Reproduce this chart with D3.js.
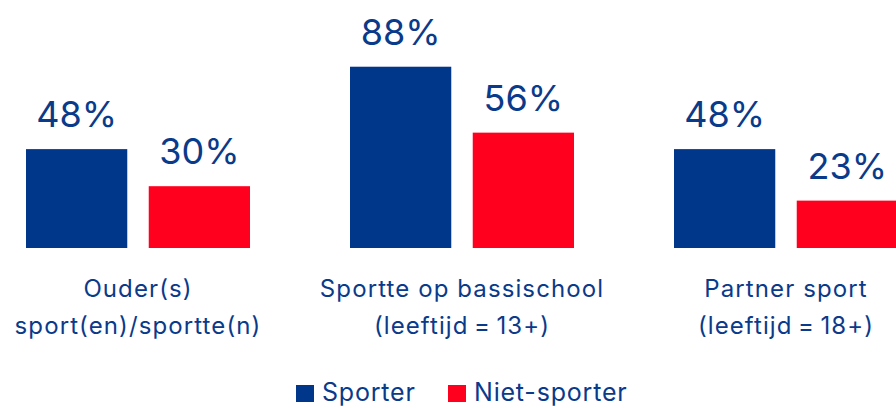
<!DOCTYPE html>
<html>
<head>
<meta charset="utf-8">
<script src="https://cdn.jsdelivr.net/npm/d3@7"></script>
<style>
  body { margin: 0; background: #fff; }
  svg { display: block; font-family: Inter, "Noto Sans", sans-serif; }
</style>
</head>
<body>
<div id="chart"></div>
<script>
// data
const categories = ["Ouder(s) sport(en)/sportte(n)", "Sportte op bassischool (leeftijd = 13+)", "Partner sport (leeftijd = 18+)"];
const catLines = [["Ouder(s)", "sport(en)/sportte(n)"], ["Sportte op bassischool", "(leeftijd\u2009=\u200913+)"], ["Partner sport", "(leeftijd\u2009=\u200918+)"]];
const seriesNames = ["Sporter", "Niet-sporter"];
const sporter = [48, 88, 48];
const nietSporter = [30, 56, 23];

const colors = ["#00378a", "#ff001f"];
const textColor = "#0a3a8a";

const width = 896;
const height = 408;
const baseY = 248;

const svg = d3.select("#chart").append("svg")
  .attr("width", width)
  .attr("height", height);

const x0 = d3.scaleBand()
  .domain(categories)
  .range([26, 26 + 324 * 3 - 100])
  .paddingInner(100 / 324)
  .paddingOuter(0);

const x1 = d3.scaleBand()
  .domain(seriesNames)
  .range([0, x0.bandwidth()])
  .paddingInner(0.175);

const y = d3.scaleLinear()
  .domain([0, 100])
  .range([baseY, baseY - 206]);

const rows = categories.map((c, i) => seriesNames.map((s, j) => ({
  cat: c, series: s, value: j === 0 ? sporter[i] : nietSporter[i], idx: j
})));

const groups = svg.selectAll("g.group")
  .data(rows)
  .enter().append("g")
  .attr("class", "group")
  .attr("transform", (d, i) => `translate(${x0(categories[i])},0)`);

groups.selectAll("rect")
  .data(d => d)
  .enter().append("rect")
  .attr("x", d => x1(d.series))
  .attr("y", d => y(d.value))
  .attr("width", x1.bandwidth())
  .attr("height", d => y(0) - y(d.value))
  .attr("fill", d => colors[d.idx]);

// value labels
groups.selectAll("text.val")
  .data(d => d)
  .enter().append("text")
  .attr("class", "val")
  .attr("x", d => x1(d.series) + x1.bandwidth() / 2)
  .attr("y", d => y(d.value) - 22)
  .attr("text-anchor", "middle")
  .attr("fill", textColor)
  .style("font-size", "36px")
  .text(d => d.value + "%");

// category labels
const catText = svg.selectAll("text.cat")
  .data(categories)
  .enter().append("text")
  .attr("class", "cat")
  .attr("x", d => x0(d) + x0.bandwidth() / 2)
  .attr("y", 297)
  .attr("text-anchor", "middle")
  .attr("fill", textColor)
  .style("font-size", "24px")
  .style("letter-spacing", "1.1px");

catText.selectAll("tspan")
  .data((d, i) => catLines[i])
  .enter().append("tspan")
  .attr("x", function() { return d3.select(this.parentNode).attr("x"); })
  .attr("dy", (d, i) => i === 0 ? 0 : 37)
  .text(d => d);

// legend
const legendX = [296, 448];
const legend = svg.selectAll("g.legend")
  .data(seriesNames)
  .enter().append("g")
  .attr("class", "legend")
  .attr("transform", (d, i) => `translate(${legendX[i]},385)`);

legend.append("rect")
  .attr("width", 18)
  .attr("height", 17)
  .attr("fill", (d, i) => colors[i]);

legend.append("text")
  .attr("x", 26)
  .attr("y", 16)
  .attr("fill", textColor)
  .style("font-size", "25px")
  .style("letter-spacing", "0.8px")
  .text(d => d);
</script>
</body>
</html>
